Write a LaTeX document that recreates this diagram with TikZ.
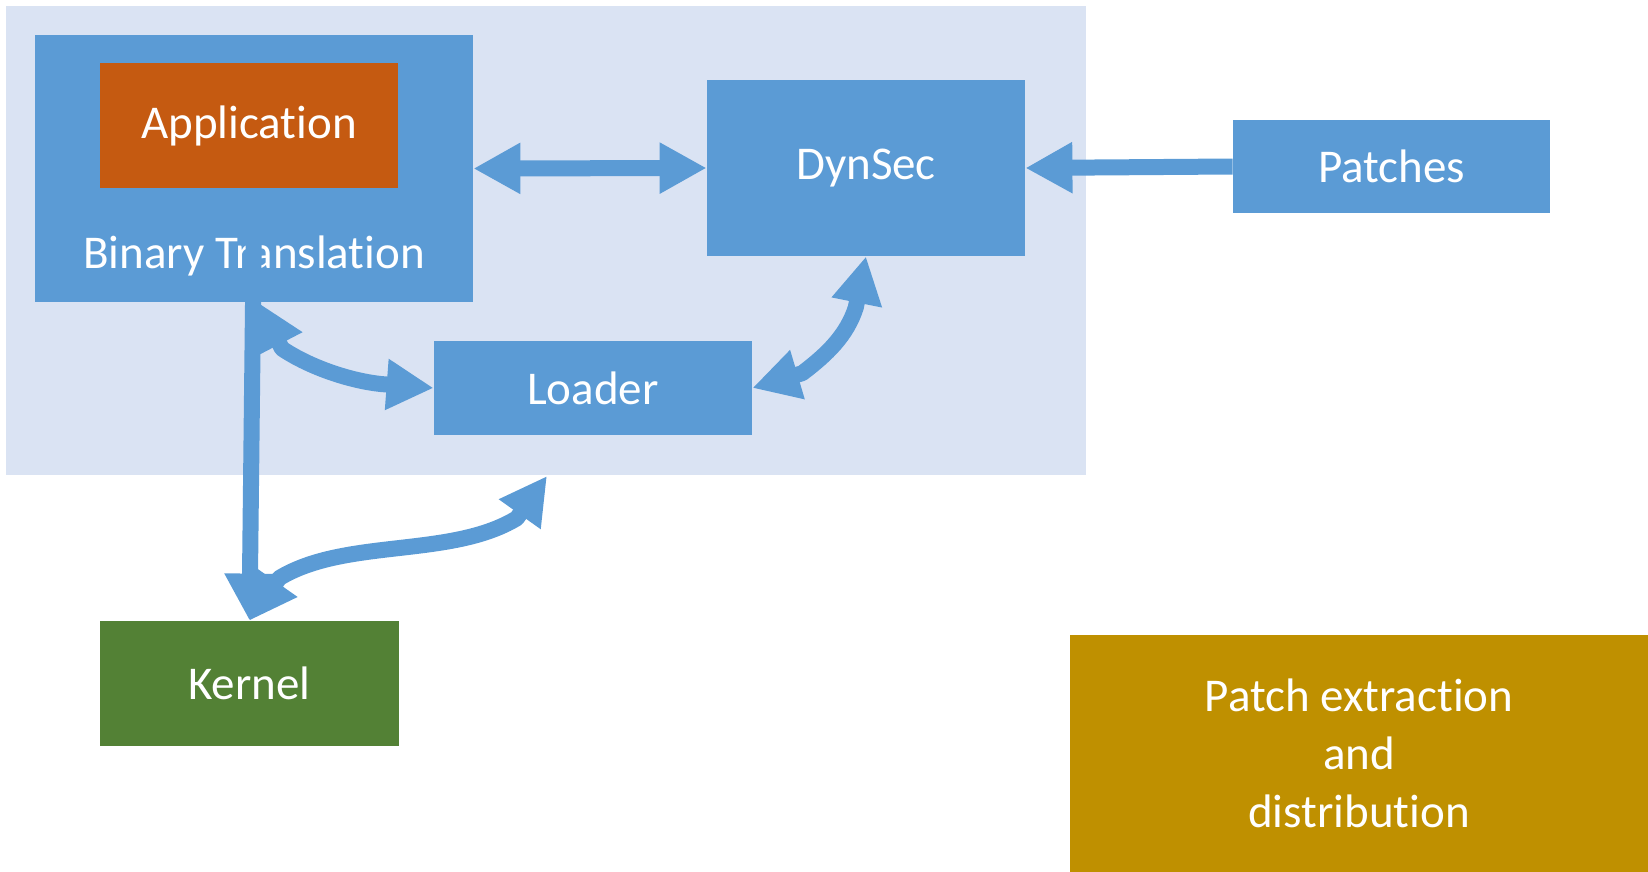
\documentclass[tikz,border=0pt]{standalone}
\usepackage{fontspec}
\setmainfont{Carlito}[RawFeature={-liga;-clig;-calt;-dlig}]
\usetikzlibrary{arrows.meta,calc}

\definecolor{panel}{HTML}{DAE3F3}
\definecolor{boxblue}{HTML}{5B9BD5}
\definecolor{apporange}{HTML}{C55A11}
\definecolor{kgreen}{HTML}{538135}
\definecolor{gold}{HTML}{BF9000}

\begin{document}
\begin{tikzpicture}[x=0.5pt,y=-0.5pt,
  blk/.style={fill=#1, draw=none, inner sep=0pt, text=white,
    font=\fontsize{23.5pt}{29pt}\selectfont},
  lbl/.style={text=white, inner sep=0pt, font=\fontsize{23.5pt}{29pt}\selectfont},
  conn/.style={draw=boxblue, line width=8pt, line join=round},
  >={Triangle[length=23.5pt,width=24pt]}]

\useasboundingbox (0,0) rectangle (1648,872);

% system panel
\fill[panel] (6,6) rectangle (1086,475);

% blocks
\node[blk=boxblue, minimum width=219pt, minimum height=133.5pt] (BT) at (254,168.5) {};
\node[lbl] (BTlabel) at (254,256) {Binary Translation};
\node[blk=apporange, minimum width=149pt, minimum height=62.5pt] (App) at (249,125.5) {Application};
\node[blk=boxblue, minimum width=159pt, minimum height=88pt] (DynSec) at (866,168) {DynSec};
\node[blk=boxblue, minimum width=159pt, minimum height=47pt] (Loader) at (593,388) {Loader};
\node[blk=boxblue, minimum width=158.5pt, minimum height=46.5pt] (Patches) at (1391.5,166.5) {Patches};
\node[blk=kgreen, minimum width=149.5pt, minimum height=62.5pt] (Kernel) at (249.5,683.5) {Kernel};
\node[blk=gold, minimum width=289pt, minimum height=118.5pt, align=center] (Extract) at (1359,753.5)
  {Patch extraction\\and\\distribution};

% connectors
\coordinate (btk) at (254,215);
\coordinate (ldr) at (547,476);

\draw[conn,<->] (BT.east) -- (DynSec.west);
\draw[conn,->] (Patches.west) -- (DynSec.east);
\draw[conn,->] (btk) -- (Kernel.north);

\draw[conn,<->] ($(BT.south)+(4,0)$) -- ++(24,46.2)
  .. controls +(29,19.5) and +(-30,-3) .. ($(Loader.west)+(-51.9,-3.9)$) -- (Loader.west);

\draw[conn,<->] (DynSec.south) -- ++(-10.2,51)
  .. controls +(-9,28) and +(25,-19) .. ($(Loader.east)+(49.8,-14.8)$) -- (Loader.east);

\draw[conn,<->] (Kernel.north) -- ++(29.9,-42.6)
  .. controls +(66,-40) and +(-66,40) .. ($(ldr)+(-30.2,42.3)$) -- (ldr);

\end{tikzpicture}
\end{document}
